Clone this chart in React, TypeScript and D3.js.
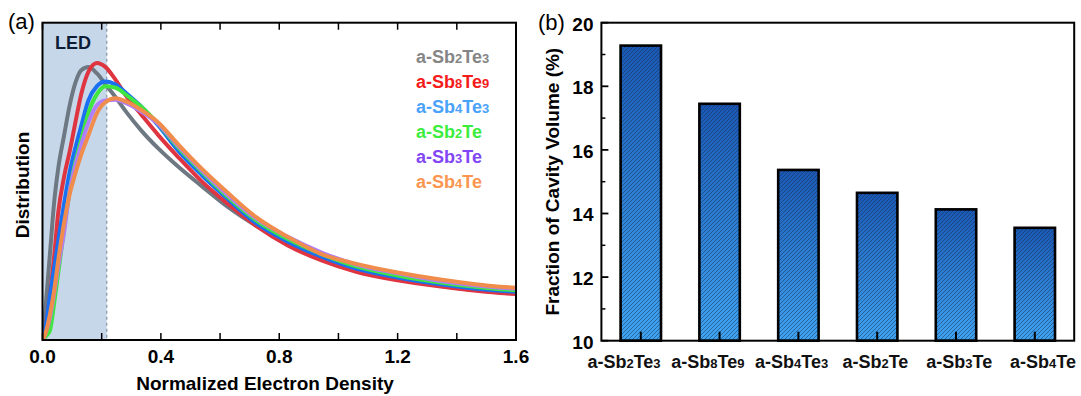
import React from "react";
import * as d3 from "d3";

// panel (a): electron density distributions (normalised to plot height)
const densityX = [0, 0.01, 0.025, 0.04, 0.053, 0.073, 0.092, 0.111, 0.131, 0.155, 0.184, 0.213, 0.247, 0.286, 0.334, 0.392, 0.46, 0.538, 0.625, 0.722, 0.829, 0.945, 1.06, 1.2, 1.35, 1.546, 1.6];
const distSb2Te3 = [0, 0.1, 0.27, 0.44, 0.54, 0.645, 0.74, 0.81, 0.85, 0.86, 0.84, 0.805, 0.765, 0.715, 0.66, 0.603, 0.545, 0.485, 0.42, 0.36, 0.305, 0.257, 0.222, 0.193, 0.17, 0.15, 0.147];
const distSb8Te9 = [0, 0.04, 0.14, 0.27, 0.4, 0.515, 0.595, 0.685, 0.775, 0.845, 0.873, 0.86, 0.82, 0.765, 0.71, 0.645, 0.575, 0.5, 0.43, 0.36, 0.298, 0.25, 0.215, 0.188, 0.168, 0.148, 0.145];
const distSb4Te3 = [0, 0.04, 0.14, 0.23, 0.31, 0.43, 0.53, 0.605, 0.675, 0.755, 0.8, 0.815, 0.805, 0.775, 0.735, 0.675, 0.595, 0.52, 0.445, 0.368, 0.31, 0.262, 0.225, 0.197, 0.175, 0.155, 0.152];
const distSb2Te = [0, 0.01, 0.03, 0.12, 0.21, 0.35, 0.47, 0.56, 0.63, 0.715, 0.775, 0.8, 0.795, 0.77, 0.735, 0.68, 0.605, 0.53, 0.452, 0.377, 0.318, 0.27, 0.232, 0.203, 0.18, 0.16, 0.157];
const distSb3Te = [0, 0.02, 0.07, 0.15, 0.23, 0.34, 0.47, 0.55, 0.615, 0.685, 0.74, 0.755, 0.757, 0.745, 0.72, 0.68, 0.61, 0.535, 0.458, 0.383, 0.325, 0.275, 0.238, 0.21, 0.185, 0.165, 0.162];
const distSb4Te = [0, 0.02, 0.08, 0.16, 0.25, 0.37, 0.46, 0.525, 0.585, 0.645, 0.715, 0.75, 0.762, 0.75, 0.725, 0.685, 0.615, 0.54, 0.465, 0.387, 0.325, 0.27, 0.24, 0.213, 0.19, 0.168, 0.165];

const compounds = ["a-Sb2Te3", "a-Sb8Te9", "a-Sb4Te3", "a-Sb2Te", "a-Sb3Te", "a-Sb4Te"];
const lineColors = ["#6d7882", "#de3540", "#1a70f2", "#3fe63f", "#b07ef8", "#f08c4c"];
const legendColors = ["#858585", "#f51c1c", "#4aa2fa", "#3ded3d", "#8246f5", "#fa9650"];
const ledEdge = 0.217;
const xTicksA = [0, 0.4, 0.8, 1.2, 1.6];

// panel (b): fraction of cavity volume (%)
const cavityFraction = [19.28, 17.45, 15.37, 14.65, 14.13, 13.55];
const yTicksB = [10, 12, 14, 16, 18, 20];

const FONT = "'Liberation Sans', Arial, sans-serif";

function Formula({ text, x, y, size, sub, fill, anchor = "start" }: any) {
  const parts: string[] = text.match(/\d+|\D+/g) || [];
  return (
    <text x={x} y={y} fontSize={size} fontWeight="bold" fill={fill} textAnchor={anchor} fontFamily={FONT}>
      {parts.map((p, i) =>
        /\d/.test(p) ? (
          <tspan key={i} fontSize={sub}>{p}</tspan>
        ) : (
          <tspan key={i}>{p}</tspan>
        )
      )}
    </text>
  );
}

export default function App() {
  const series = [distSb2Te3, distSb8Te9, distSb4Te3, distSb2Te, distSb3Te, distSb4Te];

  // --- panel (a) scales
  const xA = d3.scaleLinear().domain([0, 1.6]).range([42.5, 516]);
  const yA = d3.scaleLinear().domain([0, 1]).range([340, 22.7]);
  const line = d3
    .line<number>()
    .x((_, i) => xA(densityX[i]))
    .y((d) => yA(d))
    .curve(d3.curveMonotoneX);
  const minorA = d3.range(0, 1.61, 0.2);

  // --- panel (b) scales
  const xB = d3.scaleBand<string>().domain(compounds).range([601.4, 1074.2]);
  const yB = d3.scaleLinear().domain([10, 20]).range([340.7, 22.7]);
  const labelB = d3.scalePoint<string>().domain(compounds).range([624, 1043]);
  const barW = xB.bandwidth() * 0.513;
  const minorB = d3.range(11, 20, 2);

  return (
    <svg width={1081} height={396} style={{ position: "absolute", left: 0, top: 0, background: "#fff" }}>
      <defs>
        <clipPath id="clipA">
          <rect x={xA(0)} y={yA(1)} width={xA(1.6) - xA(0)} height={yA(0) - yA(1)} />
        </clipPath>
        <linearGradient id="barGrad" x1="0" y1="0" x2="0" y2="1">
          <stop offset="0%" stopColor="#1958b5" />
          <stop offset="100%" stopColor="#3ea3f2" />
        </linearGradient>
        <pattern id="hatch" width={4} height={4} patternUnits="userSpaceOnUse">
          <path d="M-1,1 l2,-2 M0,4 l4,-4 M3,5 l2,-2" stroke="#1d2d48" strokeOpacity={0.55} strokeWidth={0.9} />
        </pattern>
      </defs>

      {/* ===== panel (a) ===== */}
      <text x={8} y={28.5} fontSize={22} fontFamily={FONT}>(a)</text>
      <rect x={xA(0)} y={yA(1)} width={xA(ledEdge) - xA(0)} height={yA(0) - yA(1)} fill="#c7d7ea" />
      <line x1={xA(ledEdge)} x2={xA(ledEdge)} y1={yA(1)} y2={yA(0)} stroke="#8a9ab0" strokeWidth={1.3} strokeDasharray="3,3" />
      <text x={55} y={49.3} fontSize={18} fontWeight="bold" fill="#0d1b35" fontFamily={FONT}>LED</text>

      <g clipPath="url(#clipA)">
        {series.map((s, i) => (
          <path key={i} d={line(s) || ""} fill="none" stroke={lineColors[i]} strokeWidth={4} strokeLinejoin="round" strokeLinecap="round" />
        ))}
      </g>

      {minorA.map((t, i) => (
        <g key={i} stroke="#000" strokeWidth={1.5}>
          <line x1={xA(t)} x2={xA(t)} y1={yA(0)} y2={yA(0) - 7} />
          <line x1={xA(t)} x2={xA(t)} y1={yA(1)} y2={yA(1) + 7} />
        </g>
      ))}
      <rect x={xA(0)} y={yA(1)} width={xA(1.6) - xA(0)} height={yA(0) - yA(1)} fill="none" stroke="#000" strokeWidth={2} />

      {xTicksA.map((t) => (
        <text key={t} x={xA(t)} y={363.3} textAnchor="middle" fontSize={19} fontWeight="bold" fontFamily={FONT}>
          {t.toFixed(1)}
        </text>
      ))}
      <text x={265} y={390} textAnchor="middle" fontSize={19} fontWeight="bold" fontFamily={FONT}>
        Normalized Electron Density
      </text>
      <text transform="translate(29,185) rotate(-90)" textAnchor="middle" fontSize={19} fontWeight="bold" fontFamily={FONT}>
        Distribution
      </text>

      {compounds.map((c, i) => (
        <Formula key={c} text={c} x={416} y={63.3 + i * 25} size={18} sub={13} fill={legendColors[i]} />
      ))}

      {/* ===== panel (b) ===== */}
      <text x={538} y={30} fontSize={22} fontFamily={FONT}>(b)</text>

      {compounds.map((c, i) => {
        const cx = (xB(c) as number) + xB.bandwidth() / 2;
        const top = yB(cavityFraction[i]);
        return (
          <g key={c}>
            <rect x={cx - barW / 2} y={top} width={barW} height={yB(10) - top} fill="url(#barGrad)" />
            <rect x={cx - barW / 2} y={top} width={barW} height={yB(10) - top} fill="url(#hatch)" stroke="#000" strokeWidth={2.6} />
            <line x1={cx} x2={cx} y1={yB(10)} y2={yB(10) - 9} stroke="#000" strokeWidth={2} />
          </g>
        );
      })}

      {yTicksB.map((t) => (
        <g key={t}>
          <line x1={601.4} x2={608.4} y1={yB(t)} y2={yB(t)} stroke="#000" strokeWidth={1.8} />
          <text x={593.5} y={yB(t)} dy="0.42em" textAnchor="end" fontSize={19} fontWeight="bold" fontFamily={FONT}>
            {t}
          </text>
        </g>
      ))}
      {minorB.map((t) => (
        <line key={t} x1={601.4} x2={605.4} y1={yB(t)} y2={yB(t)} stroke="#000" strokeWidth={1.5} />
      ))}
      <rect x={601.4} y={yB(20)} width={1074.2 - 601.4} height={yB(10) - yB(20)} fill="none" stroke="#000" strokeWidth={2} />

      {compounds.map((c) => (
        <Formula key={c} text={c} x={labelB(c)} y={368} size={18} sub={13} fill="#111" anchor="middle" />
      ))}
      <text transform="translate(559,181.7) rotate(-90)" textAnchor="middle" fontSize={19} fontWeight="bold" fontFamily={FONT}>
        Fraction of Cavity Volume (%)
      </text>
    </svg>
  );
}
